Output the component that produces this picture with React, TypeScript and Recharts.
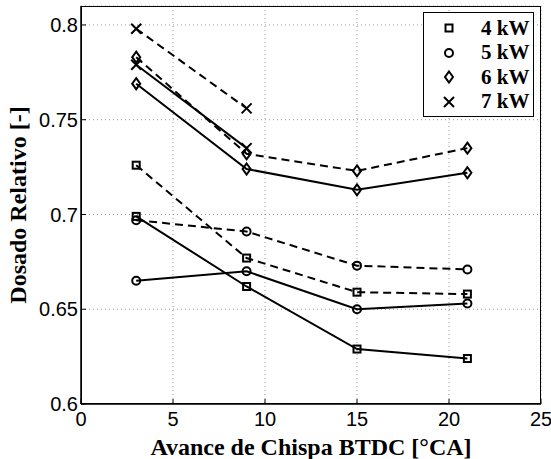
import { LineChart, Line, XAxis, YAxis, CartesianGrid } from "recharts";

// Avance de chispa [°CA]
const avance = [3, 9, 15, 21];

// Dosado relativo, línea continua y discontinua por potencia
const kw4Solid = [0.699, 0.662, 0.629, 0.624];
const kw4Dash = [0.726, 0.677, 0.659, 0.658];
const kw5Solid = [0.665, 0.67, 0.65, 0.653];
const kw5Dash = [0.697, 0.691, 0.673, 0.671];
const kw6Solid = [0.769, 0.724, 0.713, 0.722];
const kw6Dash = [0.783, 0.732, 0.723, 0.735];
const kw7Solid = [0.779, 0.735];
const kw7Dash = [0.798, 0.756];

const xTicks = [0, 5, 10, 15, 20, 25];
const yTicks = [0.6, 0.65, 0.7, 0.75, 0.8];
const legendLabels = ["4 kW", "5 kW", "6 kW", "7 kW"];

type Marker = "square" | "circle" | "diamond" | "cross";

const toPoints = (vals: number[]) => vals.map((y, i) => ({ x: avance[i], y }));

const series: { id: string; vals: number[]; marker: Marker; dashed: boolean }[] = [
  { id: "4s", vals: kw4Solid, marker: "square", dashed: false },
  { id: "4d", vals: kw4Dash, marker: "square", dashed: true },
  { id: "5s", vals: kw5Solid, marker: "circle", dashed: false },
  { id: "5d", vals: kw5Dash, marker: "circle", dashed: true },
  { id: "6s", vals: kw6Solid, marker: "diamond", dashed: false },
  { id: "6d", vals: kw6Dash, marker: "diamond", dashed: true },
  { id: "7s", vals: kw7Solid, marker: "cross", dashed: false },
  { id: "7d", vals: kw7Dash, marker: "cross", dashed: true },
];

function MarkerShape({ cx, cy, type }: { cx: number; cy: number; type: Marker }) {
  const st = { fill: "none", stroke: "#000", strokeWidth: 2 };
  if (type === "square") return <rect x={cx - 3.5} y={cy - 3.5} width={7} height={7} {...st} />;
  if (type === "circle") return <circle cx={cx} cy={cy} r={4} {...st} />;
  if (type === "diamond")
    return <polygon points={`${cx},${cy - 5.5} ${cx + 4},${cy} ${cx},${cy + 5.5} ${cx - 4},${cy}`} {...st} />;
  return (
    <path d={`M${cx - 5},${cy - 5}L${cx + 5},${cy + 5}M${cx - 5},${cy + 5}L${cx + 5},${cy - 5}`} {...st} />
  );
}

const markerTypes: Marker[] = ["square", "circle", "diamond", "cross"];
const serif = "'Liberation Serif', 'Times New Roman', serif";

function LegendBox() {
  return (
    <div
      style={{
        position: "absolute",
        left: 423,
        top: 12,
        width: 111,
        height: 105,
        border: "1.5px solid #000",
        background: "#fff",
        boxSizing: "border-box",
        paddingTop: 3,
      }}
    >
      {legendLabels.map((l, i) => (
        <div key={l} style={{ display: "flex", alignItems: "center", height: 24.5 }}>
          <svg width={50} height={20}>
            <MarkerShape cx={25} cy={10} type={markerTypes[i]} />
          </svg>
          <span style={{ fontFamily: serif, fontWeight: "bold", fontSize: 21, marginLeft: 7 }}>{l}</span>
        </div>
      ))}
    </div>
  );
}

const tickStyle = { fontFamily: "'Liberation Sans', Arial, sans-serif", fontSize: 20, fill: "#000" };

export default function App() {
  return (
    <div style={{ position: "absolute", left: 0, top: 0, width: 551, height: 459, background: "#fff" }}>
      <LineChart width={551} height={459} margin={{ top: 6, right: 10, bottom: 0, left: 0 }}>
        <CartesianGrid stroke="#999" strokeDasharray="1 3" />
        <XAxis
          type="number"
          dataKey="x"
          domain={[0, 25]}
          ticks={xTicks}
          height={55}
          tick={tickStyle}
          tickSize={-5}
          tickLine={{ stroke: "#000" }}
          tickMargin={13}
          axisLine={{ stroke: "#000", strokeWidth: 1.5 }}
          allowDuplicatedCategory={false}
          label={{
            value: "Avance de Chispa BTDC [°CA]",
            position: "insideBottom",
            offset: 4,
            style: { fontFamily: serif, fontWeight: "bold", fontSize: 24, fill: "#000" },
          }}
        />
        <YAxis
          type="number"
          domain={[0.6, 0.81]}
          ticks={yTicks}
          width={81}
          tick={tickStyle}
          tickSize={-5}
          tickLine={{ stroke: "#000" }}
          tickMargin={8}
          axisLine={{ stroke: "#000", strokeWidth: 1.5 }}
          tickFormatter={(v: number) => String(v)}
          label={{
            value: "Dosado Relativo [-]",
            angle: -90,
            position: "insideLeft",
            offset: 17,
            style: { textAnchor: "middle", fontFamily: serif, fontWeight: "bold", fontSize: 24, fill: "#000" },
          }}
        />
        {series.map((s) => (
          <Line
            key={s.id}
            data={toPoints(s.vals)}
            dataKey="y"
            stroke="#000"
            strokeWidth={2}
            strokeDasharray={s.dashed ? "8 5" : undefined}
            dot={(p: any) => <MarkerShape key={`${s.id}-${p.index}`} cx={p.cx} cy={p.cy} type={s.marker} />}
            activeDot={false}
            legendType="none"
            isAnimationActive={false}
          />
        ))}
      </LineChart>
      {/* marco del área de trazado */}
      <div
        style={{
          position: "absolute",
          left: 81,
          top: 6,
          width: 460,
          height: 398,
          border: "1.5px solid #000",
          boxSizing: "border-box",
          pointerEvents: "none",
        }}
      />
      <LegendBox />
    </div>
  );
}
